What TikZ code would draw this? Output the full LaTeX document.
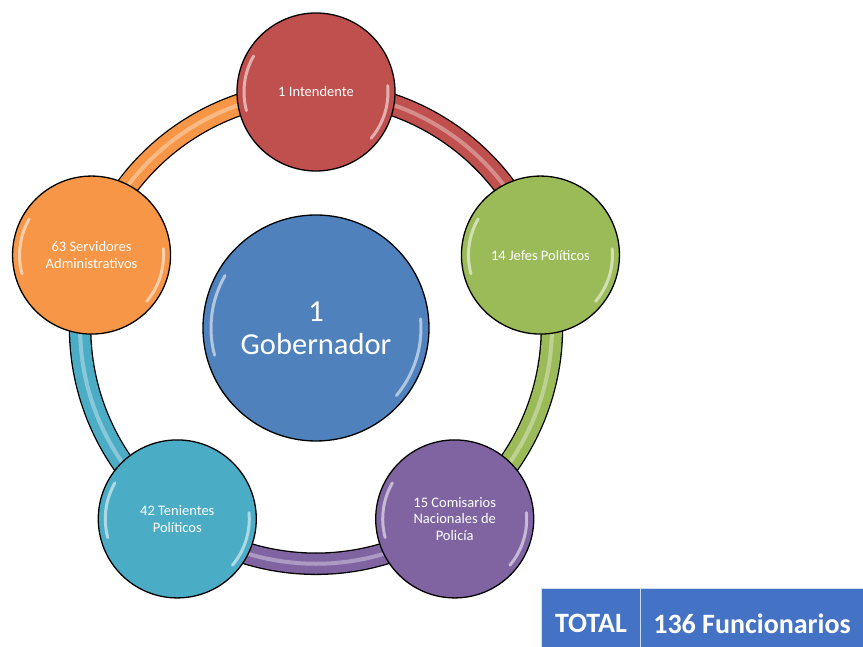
\documentclass[tikz,border=0pt]{standalone}
\usepackage{fontspec}
\setmainfont{Carlito}
\usetikzlibrary{backgrounds}
\definecolor{cred}{HTML}{C0504D}
\definecolor{cgreen}{HTML}{9BBB59}
\definecolor{cpurple}{HTML}{8064A2}
\definecolor{cteal}{HTML}{4BACC6}
\definecolor{corange}{HTML}{F79646}
\definecolor{cblue}{HTML}{4F81BD}
\definecolor{tblue}{HTML}{4472C4}
\tikzset{
  smallc/.style={circle, draw=black, line width=1.3pt, minimum size=158pt, inner sep=0pt,
    text=white, align=center, font=\fontsize{14.5}{16.5}\selectfont, fill=#1},
  bigc/.style={circle, draw=black, line width=1.3pt, minimum size=226pt, inner sep=0pt,
    text=white, align=center, font=\fontsize{30.5}{33}\selectfont, fill=#1},
  band/.style={draw=black, line width=1.3pt, double distance=20pt, double=#1},
  bandhl/.style={draw=white, line width=4pt, opacity=0.35},
  hl/.style={draw=white, line width=3pt, opacity=0.55, line cap=round},
  totbox/.style={fill=tblue, draw=white!75!tblue, line width=1pt, anchor=north west,
    minimum height=70pt, inner sep=0pt, text=white, font=\fontsize{28}{32}\selectfont\bfseries},
}
\begin{document}
\begin{tikzpicture}[x=1pt,y=1pt]
\useasboundingbox (0,0) rectangle (863,647);
\coordinate (c) at (316,319);
\node[bigc=cblue] (gob) at (c) {1\\Gobernador};
\node[smallc=cred] (int) at ([shift={(90:236)}]c) {1 Intendente};
\node[smallc=cgreen] (jef) at ([shift={(18:236)}]c) {14 Jefes Políticos};
\node[smallc=cpurple] (com) at ([shift={(-54:236)}]c) {15 Comisarios\\Nacionales de\\Policía};
\node[smallc=cteal] (ten) at ([shift={(-126:236)}]c) {42 Tenientes\\Políticos};
\node[smallc=corange] (ser) at ([shift={(162:236)}]c) {63 Servidores\\Administrativos};
\begin{scope}[on background layer]
  \draw[band=cred] (int.center) to[bend left=36, looseness=0.94] (jef.center);
  \draw[band=cgreen] (jef.center) to[bend left=36, looseness=0.94] (com.center);
  \draw[band=cpurple] (com.center) to[bend left=36, looseness=0.94] (ten.center);
  \draw[band=cteal] (ten.center) to[bend left=36, looseness=0.94] (ser.center);
  \draw[band=corange] (ser.center) to[bend left=36, looseness=0.94] (int.center);
  \draw[bandhl] (int.center) to[bend left=36, looseness=0.94] (jef.center);
  \draw[bandhl] (jef.center) to[bend left=36, looseness=0.94] (com.center);
  \draw[bandhl] (com.center) to[bend left=36, looseness=0.94] (ten.center);
  \draw[bandhl] (ten.center) to[bend left=36, looseness=0.94] (ser.center);
  \draw[bandhl] (ser.center) to[bend left=36, looseness=0.94] (int.center);
\end{scope}
\foreach \n/\r in {int/72, jef/72, com/72, ten/72, ser/72, gob/105}{
  \draw[hl] ([shift={(150:\r)}]\n.center) arc[start angle=150, end angle=195, radius=\r];
  \draw[hl] ([shift={(-40:\r)}]\n.center) arc[start angle=-40, end angle=5, radius=\r];
}
\node[totbox, minimum width=99pt] (lab) at (541,59) {TOTAL};
\node[totbox, minimum width=223pt] (val) at (640,59) {136 Funcionarios};
\end{tikzpicture}
\end{document}
